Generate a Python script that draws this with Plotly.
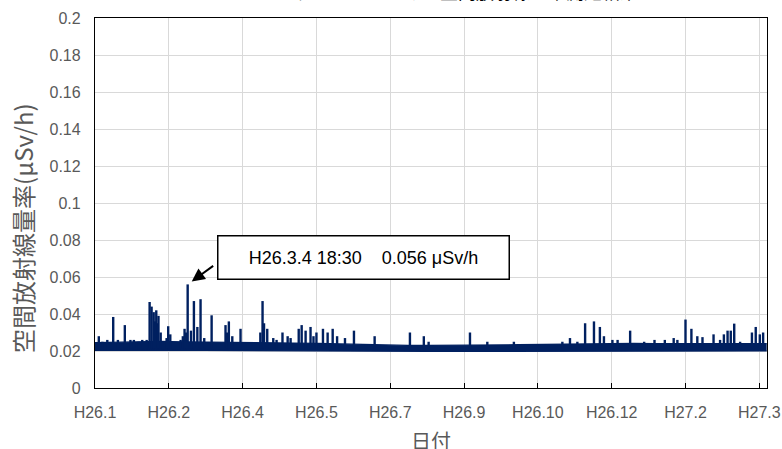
import plotly.graph_objects as go

# ---------------- data ----------------
# daily band of the continuous measurement (lower / upper edge), μSv/h
band_dates = ["2014-01-01", "2014-01-15", "2014-02-01", "2014-02-15", "2014-03-01",
              "2014-03-15", "2014-04-01", "2014-04-15", "2014-05-01", "2014-05-15",
              "2014-06-01", "2014-06-15", "2014-07-01", "2014-07-15", "2014-08-01",
              "2014-08-15", "2014-09-01", "2014-09-15", "2014-10-01", "2014-10-15",
              "2014-11-01", "2014-11-15", "2014-12-01", "2014-12-15", "2015-01-01",
              "2015-01-15", "2015-02-01", "2015-02-15", "2015-03-01", "2015-03-15",
              "2015-03-31 23:30"]
band_low = [0.0203, 0.0205, 0.0203, 0.0205, 0.0205,
            0.0203, 0.0202, 0.0202, 0.0202, 0.0202,
            0.0201, 0.0201, 0.0200, 0.0200, 0.0198,
            0.0198, 0.0198, 0.0198, 0.0200, 0.0200,
            0.0200, 0.0201, 0.0201, 0.0201, 0.0201,
            0.0201, 0.0201, 0.0201, 0.0201, 0.0200,
            0.0200]
band_high = [0.0245, 0.0248, 0.0250, 0.0252, 0.0250,
             0.0248, 0.0246, 0.0244, 0.0244, 0.0243,
             0.0241, 0.0238, 0.0234, 0.0232, 0.0230,
             0.0230, 0.0230, 0.0232, 0.0233, 0.0234,
             0.0236, 0.0238, 0.0239, 0.0240, 0.0241,
             0.0240, 0.0241, 0.0242, 0.0240, 0.0240,
             0.0240]

# short-lived peaks
spike_times = ["2014-01-03 14:00", "2014-01-06 00:00", "2014-01-09 08:00", "2014-01-13 08:00",
               "2014-01-16 12:00", "2014-01-21 05:00", "2014-01-25 00:00", "2014-01-27 08:00",
               "2014-01-30 12:00", "2014-02-02 00:00", "2014-02-05 00:00", "2014-02-07 00:00",
               "2014-02-08 08:00", "2014-02-09 18:00", "2014-02-10 12:00", "2014-02-11 12:00",
               "2014-02-12 06:00", "2014-02-13 00:00", "2014-02-14 12:00", "2014-02-18 12:00",
               "2014-02-19 14:00", "2014-02-21 00:00", "2014-02-28 00:00", "2014-03-01 12:00",
               "2014-03-02 16:00", "2014-03-03 12:00", "2014-03-04 18:30", "2014-03-07 00:00",
               "2014-03-09 00:00", "2014-03-11 08:00", "2014-03-13 12:00", "2014-03-16 00:00",
               "2014-03-21 00:00", "2014-03-30 10:00", "2014-03-31 12:00", "2014-04-01 16:00",
               "2014-04-04 00:00", "2014-04-09 14:00", "2014-04-23 00:00", "2014-04-24 12:00",
               "2014-04-25 12:00", "2014-04-27 16:00", "2014-05-01 18:00", "2014-05-04 00:00",
               "2014-05-08 00:00", "2014-05-11 12:00", "2014-05-13 12:00", "2014-05-19 00:00",
               "2014-05-21 00:00", "2014-05-23 16:00", "2014-05-27 00:00", "2014-05-29 00:00",
               "2014-05-31 00:00", "2014-06-04 10:00", "2014-06-07 14:00", "2014-06-11 00:00",
               "2014-06-14 00:00", "2014-06-19 08:00", "2014-06-25 10:00", "2014-07-09 10:00",
               "2014-08-02 08:00", "2014-08-11 18:00", "2014-08-15 00:00", "2014-09-12 00:00",
               "2014-09-23 18:00", "2014-10-11 18:00", "2014-11-13 14:00", "2014-11-18 18:00",
               "2014-11-23 18:00", "2014-11-29 00:00", "2014-12-05 00:00", "2014-12-09 00:00",
               "2014-12-11 18:00", "2014-12-17 12:00", "2014-12-21 00:00", "2014-12-29 12:00",
               "2015-01-08 00:00", "2015-01-15 00:00", "2015-01-22 00:00", "2015-01-28 00:00",
               "2015-01-30 12:00", "2015-02-05 00:00", "2015-02-09 00:00", "2015-02-13 00:00",
               "2015-02-16 12:00", "2015-02-24 00:00", "2015-02-28 10:00", "2015-03-03 00:00",
               "2015-03-05 12:00", "2015-03-07 16:00", "2015-03-10 00:00", "2015-03-14 00:00",
               "2015-03-22 00:00", "2015-03-24 14:00", "2015-03-27 08:00", "2015-03-29 14:00"]
spike_values = [0.028, 0.025, 0.026, 0.0384,
                0.026, 0.034, 0.026, 0.026,
                0.025, 0.026, 0.026, 0.0465,
                0.044, 0.041, 0.036, 0.042,
                0.035, 0.039, 0.030, 0.027,
                0.0334, 0.029, 0.026, 0.028,
                0.032, 0.030, 0.056, 0.031,
                0.047, 0.033, 0.048, 0.027,
                0.0393, 0.034, 0.030, 0.036,
                0.028, 0.032, 0.030, 0.047,
                0.035, 0.032, 0.027, 0.026,
                0.030, 0.028, 0.027, 0.032,
                0.034, 0.031, 0.033, 0.028,
                0.030, 0.032, 0.030, 0.032,
                0.028, 0.027, 0.031, 0.028,
                0.030, 0.028, 0.025, 0.030,
                0.025, 0.025, 0.025, 0.027,
                0.025, 0.035, 0.036, 0.033,
                0.028, 0.026, 0.026, 0.031,
                0.025, 0.026, 0.026, 0.027,
                0.026, 0.037, 0.032, 0.028,
                0.0275, 0.029, 0.026, 0.029,
                0.031, 0.031, 0.0348, 0.025,
                0.030, 0.033, 0.029, 0.030]
spike_floor = 0.0215   # typical level the peaks rise from

peak_time = "2014-03-04 18:30"
peak_value = 0.056
peak_label = "H26.3.4 18:30\u00a0\u00a0\u00a0 0.056 μSv/h"

x_tick_dates = ["2014-01-01", "2014-02-20", "2014-04-11", "2014-05-31", "2014-07-20",
                "2014-09-08", "2014-10-28", "2014-12-17", "2015-02-05", "2015-03-27"]
x_tick_labels = ["H26.1", "H26.2", "H26.4", "H26.5", "H26.7",
                 "H26.9", "H26.10", "H26.12", "H27.2", "H27.3"]
y_tick_values = [0, 0.02, 0.04, 0.06, 0.08, 0.1, 0.12, 0.14, 0.16, 0.18, 0.2]

title_text = "モニタリングポストにおける空間放射線量率測定結果"
y_title = "空間放射線量率(μSv/h)"
x_title = "日付"

# ---------------- figure ----------------
NAVY = "#002060"
GRID = "#d9d9d9"
TICKC = "#595959"
FONT = "Liberation Sans, Noto Sans CJK JP, sans-serif"
CJK = "Noto Sans CJK JP, sans-serif"

fig = go.Figure()

fig.add_trace(go.Scatter(x=band_dates, y=band_low, mode="lines",
                         line=dict(color=NAVY, width=1.2), hoverinfo="skip",
                         showlegend=False))
fig.add_trace(go.Scatter(x=band_dates, y=band_high, mode="lines", fill="tonexty",
                         fillcolor=NAVY, line=dict(color=NAVY, width=1.2),
                         showlegend=False))

sx, sy = [], []
for t, v in zip(spike_times, spike_values):
    sx += [t, t, None]
    sy += [spike_floor, v, None]
fig.add_trace(go.Scatter(x=sx, y=sy, mode="lines", line=dict(color=NAVY, width=2.4),
                         connectgaps=False, showlegend=False))

fig.update_layout(
    width=782, height=449,
    margin=dict(l=95, r=15, t=18, b=61, autoexpand=False),
    paper_bgcolor="white", plot_bgcolor="white",
    font=dict(family=FONT, size=16, color=TICKC),
    showlegend=False,
)

fig.update_xaxes(
    type="date", automargin=False,
    range=["2014-01-01", "2015-04-01 05:00"],
    tickmode="array", tickvals=x_tick_dates, ticktext=x_tick_labels,
    showgrid=True, gridcolor=GRID, gridwidth=1,
    showline=True, linecolor="black", linewidth=1.3, mirror=True,
    ticks="inside", ticklen=5, tickcolor="black", tickwidth=1.3,
    tickfont=dict(family=FONT, size=16, color=TICKC),
    ticklabelstandoff=10,
    zeroline=False,
)
fig.update_yaxes(
    automargin=False,
    range=[0, 0.2],
    tickmode="array", tickvals=y_tick_values,
    showgrid=True, gridcolor=GRID, gridwidth=1,
    showline=True, linecolor="black", linewidth=1.3, mirror=True,
    ticks="", tickfont=dict(family=FONT, size=16, color=TICKC),
    ticklabelstandoff=10,
    zeroline=False,
)

# axis titles (placed as in the original)
fig.add_annotation(text=y_title, xref="paper", yref="paper", x=-0.109, y=0.432,
                   xanchor="center", yanchor="middle", textangle=-90, showarrow=False,
                   font=dict(family=CJK, size=24, color=TICKC))
fig.add_annotation(text=x_title, xref="paper", yref="paper", x=0.5, y=-0.142,
                   xanchor="center", yanchor="middle", showarrow=False,
                   font=dict(family=CJK, size=20, color=TICKC))

# cut-off chart title at the very top
fig.add_annotation(text=title_text, xref="paper", yref="paper", x=0.487, y=1.033,
                   xanchor="center", yanchor="bottom", showarrow=False,
                   font=dict(family=CJK, size=18, color="black"))

# callout box
fig.add_annotation(text=peak_label, xref="paper", yref="paper", x=0.3994, y=0.354,
                   xanchor="center", yanchor="middle", showarrow=False,
                   width=290, height=42, bgcolor="white", bordercolor="black",
                   borderwidth=1.5, borderpad=0, xshift=0,
                   font=dict(family=FONT, size=18, color="black"))
# arrow to the maximum
fig.add_annotation(x=peak_time, y=peak_value, xref="x", yref="y", text=" ",
                   showarrow=True, ax=29, ay=-21, arrowhead=2, arrowsize=1.3,
                   arrowwidth=2, arrowcolor="black", standoff=5)

fig.write_html("out.html", config={"displayModeBar": False},
               post_script="document.body.style.margin='0px';")
